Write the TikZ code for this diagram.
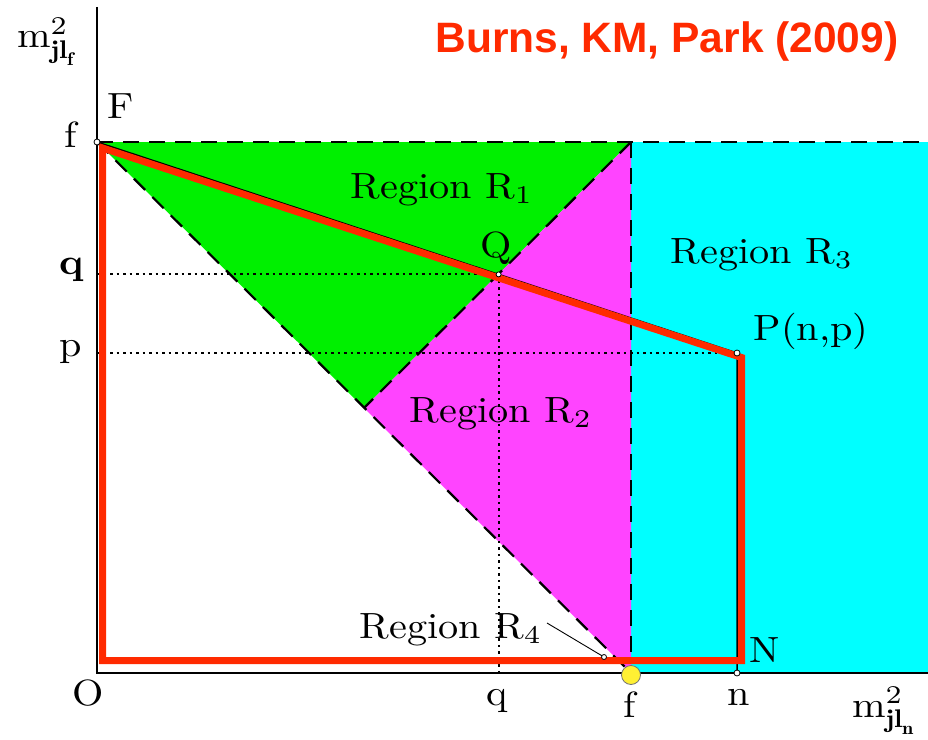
\documentclass[tikz,border=0pt]{standalone}
\usepackage{fontspec}
\usepackage{graphicx}
\newfontfamily\titlefont{Liberation Sans}
\definecolor{redl}{HTML}{FF2A00}
\definecolor{grn}{HTML}{00F000}
\definecolor{mag}{HTML}{FF44FF}
\definecolor{cya}{HTML}{00FFFF}
\definecolor{ydot}{HTML}{FFF033}
\newcommand\lbl[1]{\scalebox{4.04}[3.66]{#1}}
\begin{document}
\begin{tikzpicture}[x=1bp,y=-1bp,
  lab/.style={inner sep=0pt, anchor=base},
  dsh/.style={line width=2.2bp, dash pattern=on 16bp off 10bp},
  dotl/.style={line width=2bp, dash pattern=on 2.5bp off 4bp},
  pt/.style={circle, draw=black, fill=white, inner sep=0pt, minimum size=6bp, line width=0.8bp}]
\useasboundingbox (0,0) rectangle (928,740);
\coordinate (O) at (97,673);
\coordinate (F) at (97,142);
\coordinate (T) at (631,142);
\coordinate (M) at (364,408);
\coordinate (fx) at (631,673);
\coordinate (Q) at (498.6,274.4);
\coordinate (P) at (737,353);
\coordinate (n) at (737,673);
\coordinate (TR) at (928,142);
\coordinate (BR) at (928,673);
\coordinate (Ytop) at (97,7);
\coordinate (Vb) at (631,660);
\coordinate (qy) at (97,274.4);
\coordinate (qx) at (498.6,673);
\coordinate (py) at (97,353);
\coordinate (r1) at (102.5,148);
\coordinate (r2) at (741.5,357.5);
\coordinate (r3) at (741.5,660.5);
\coordinate (r4) at (102.5,660.5);
\coordinate (ps) at (547,623);
\coordinate (pe) at (604,657);
% fills
\fill[cya] (T) rectangle (BR);
\fill[grn] (F) -- (T) -- (M) -- cycle;
\fill[mag] (T) -- (M) -- (fx) -- cycle;
% dashed
\draw[dsh] (F) -- (TR);
\draw[dsh] (F) -- (fx);
\draw[dsh] (T) -- (M);
\draw[dsh] (T) -- (Vb);
% dotted
\draw[dotl] (qy) -- (Q);
\draw[dotl] (Q) -- (qx);
\draw[dotl] (py) -- (P);
% axes
\draw[line width=2.2bp] (Ytop) -- (O) -- (BR);
% F-P-n
\draw[line width=1.5bp] (F) -- (P) -- (n);
% red path
\draw[redl, line width=7bp, line join=miter] (r1) -- (r2) -- (r3) -- (r4) -- cycle;
% pointer
\draw[line width=0.9bp] (ps) -- (pe);
\node[pt, minimum size=5bp] (pen) at (pe) {};
% points
\node[pt] (Fp) at (F) {};
\node[pt, minimum size=5bp] (Qp) at (Q) {};
\node[pt] (Pp) at (P) {};
\node[pt] (np) at (n) {};
\node[circle, fill=ydot, draw=black!55, line width=0.8bp, minimum size=19bp, inner sep=0pt] (fdot) at (631,675) {};
% labels
\node[lab] (lF) at (121,118) {\lbl{F}};
\node[lab] (lf) at (71,147) {\lbl{f}};
\node[lab] (lq) at (72,274) {\lbl{\textbf{q}}};
\node[lab] (lp) at (71,356) {\lbl{p}};
\node[lab] (lO) at (88,705) {\lbl{O}};
\node[lab] (lqx) at (497,705) {\lbl{q}};
\node[lab] (lfx) at (630,717) {\lbl{f}};
\node[lab] (lnx) at (739,705) {\lbl{n}};
\node[lab] (lN) at (765,662) {\lbl{N}};
\node[lab] (lQ) at (496,257) {\lbl{Q}};
\node[lab] (lP) at (811,340) {\lbl{P(n,p)}};
\node[lab] (R1) at (442,198) {\lbl{Region R$_1$}};
\node[lab] (R3) at (762,263) {\lbl{Region R$_3$}};
\node[lab] (R2) at (501,422) {\lbl{Region R$_2$}};
\node[lab] (R4) at (451,638) {\lbl{Region R$_4$}};
\node[inner sep=0pt, anchor=base west] (ylab) at (17,48) {\lbl{m$^2_{\mathbf{jl}_{\mathbf{f}}}$}};
\node[inner sep=0pt, anchor=base west] (xlab) at (852,717) {\lbl{m$^2_{\mathbf{jl}_{\mathbf{n}}}$}};
\node[anchor=base, inner sep=0pt, text=redl, font=\titlefont\bfseries\fontsize{42.5bp}{48bp}\selectfont] (title) at (667,53) {Burns, KM, Park (2009)};
\end{tikzpicture}
\end{document}
